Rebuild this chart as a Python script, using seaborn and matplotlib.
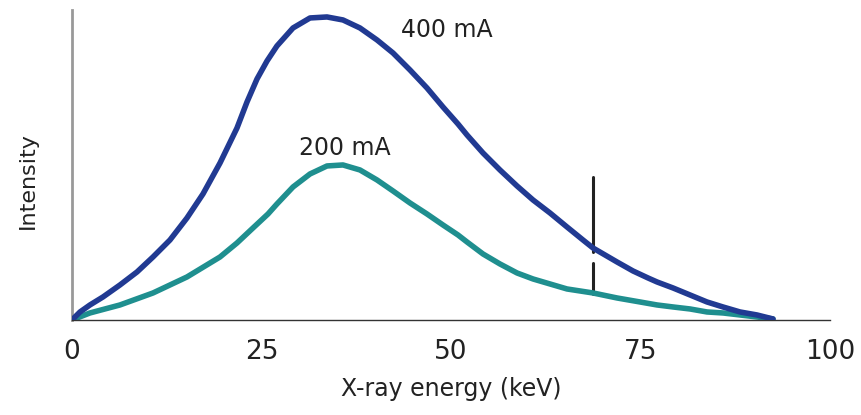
import matplotlib
matplotlib.use("Agg")
import matplotlib.pyplot as plt
import seaborn as sns
import pandas as pd

# Data (arbitrary intensity units)
energy_400 = [0, 1.06, 2.37, 4.09, 6.33, 8.58, 10.69, 12.93, 15.17, 17.28, 19.53,
              21.77, 23.09, 24.41, 25.73, 27.04, 29.16, 31.40, 33.64, 35.75, 37.99,
              40.24, 42.35, 44.59, 46.83, 48.94, 50.92, 52.11, 54.22, 56.46, 58.71,
              60.82, 63.06, 65.30, 67.41, 68.73, 71.90, 74.01, 75.99, 77.18, 79.29,
              81.53, 83.77, 85.88, 88.13, 90.37, 92.48]
intensity_400 = [0, 8, 15, 23, 35, 48, 63, 80, 102, 126, 157,
                 192, 218, 241, 259, 274, 292, 302, 303, 300, 292,
                 280, 267, 250, 232, 213, 196, 185, 167, 150, 134,
                 120, 107, 93, 80, 72, 58, 49, 42, 38, 32,
                 25, 18, 13, 8, 5, 1]
energy_200 = [0, 2.37, 6.33, 10.69, 15.17, 19.53, 21.77, 23.88, 25.86, 27.04,
              29.16, 31.40, 33.64, 35.75, 37.99, 40.24, 42.35, 44.59, 46.83, 48.94,
              50.92, 52.11, 54.22, 56.46, 58.71, 60.82, 63.06, 65.30, 68.73, 71.90,
              74.93, 77.18, 79.29, 81.53, 83.77, 85.88, 88.13, 90.37, 92.48]
intensity_200 = [0, 7, 15, 27, 43, 63, 77, 92, 106, 116,
                 133, 146, 154, 155, 150, 140, 129, 117, 106, 95,
                 85, 78, 66, 56, 47, 41, 36, 31, 27, 22,
                 18, 15, 13, 11, 8, 7, 5, 3, 1]
series_labels = ["400 mA", "200 mA"]
x_ticks = [0, 25, 50, 75, 100]
marker_energy = 68.7

df = pd.concat([
    pd.DataFrame({"energy": energy_400, "intensity": intensity_400, "tube": series_labels[0]}),
    pd.DataFrame({"energy": energy_200, "intensity": intensity_200, "tube": series_labels[1]}),
])

sns.set_style("white")
plt.rcParams["font.family"] = ["DejaVu Sans"]

fig = plt.figure(figsize=(8.62, 4.15), dpi=100)
ax = fig.add_axes([0.0835, 0.229, 0.8794, 0.747])

palette = {series_labels[0]: "#213a92", series_labels[1]: "#1f8f8f"}
# vertical marker segments (broken where the 400 mA curve crosses)
ax.plot([marker_energy, marker_energy], [26, 57], color="#222222", lw=2.2, zorder=1)
ax.plot([marker_energy, marker_energy], [68, 143], color="#222222", lw=2.2, zorder=1)

sns.lineplot(data=df[df.tube == series_labels[1]], x="energy", y="intensity",
             color=palette[series_labels[1]], lw=4, ax=ax, legend=False, zorder=2,
             sort=False)
sns.lineplot(data=df[df.tube == series_labels[0]], x="energy", y="intensity",
             color=palette[series_labels[0]], lw=4, ax=ax, legend=False, zorder=3,
             sort=False)
for line in ax.lines:
    line.set_solid_capstyle("round")
    line.set_solid_joinstyle("round")

ax.text(49.5, 290, series_labels[0], fontsize=17, ha="center", va="center", color="#222222")
ax.text(36.0, 172, series_labels[1], fontsize=17, ha="center", va="center", color="#222222")

ax.set_xlim(0, 100)
ax.set_ylim(0, 310)
ax.set_xticks(x_ticks)
ax.set_xticklabels([str(t) for t in x_ticks], fontsize=19, color="#222222")
ax.set_yticks([])
ax.tick_params(axis="x", direction="out", length=8, width=1, color="#333333", pad=6)
ax.set_xlabel("X-ray energy (keV)", fontsize=17, color="#222222")
ax.xaxis.set_label_coords(0.5, -0.185)
ax.set_ylabel("Intensity", fontsize=16, color="#222222")
ax.yaxis.set_label_coords(-0.045, 0.45)

for s in ["top", "right"]:
    ax.spines[s].set_visible(False)
ax.spines["left"].set_color("#999999")
ax.spines["left"].set_linewidth(2)
ax.spines["bottom"].set_color("#333333")
ax.spines["bottom"].set_linewidth(1)

fig.savefig("out.png", dpi=100)
